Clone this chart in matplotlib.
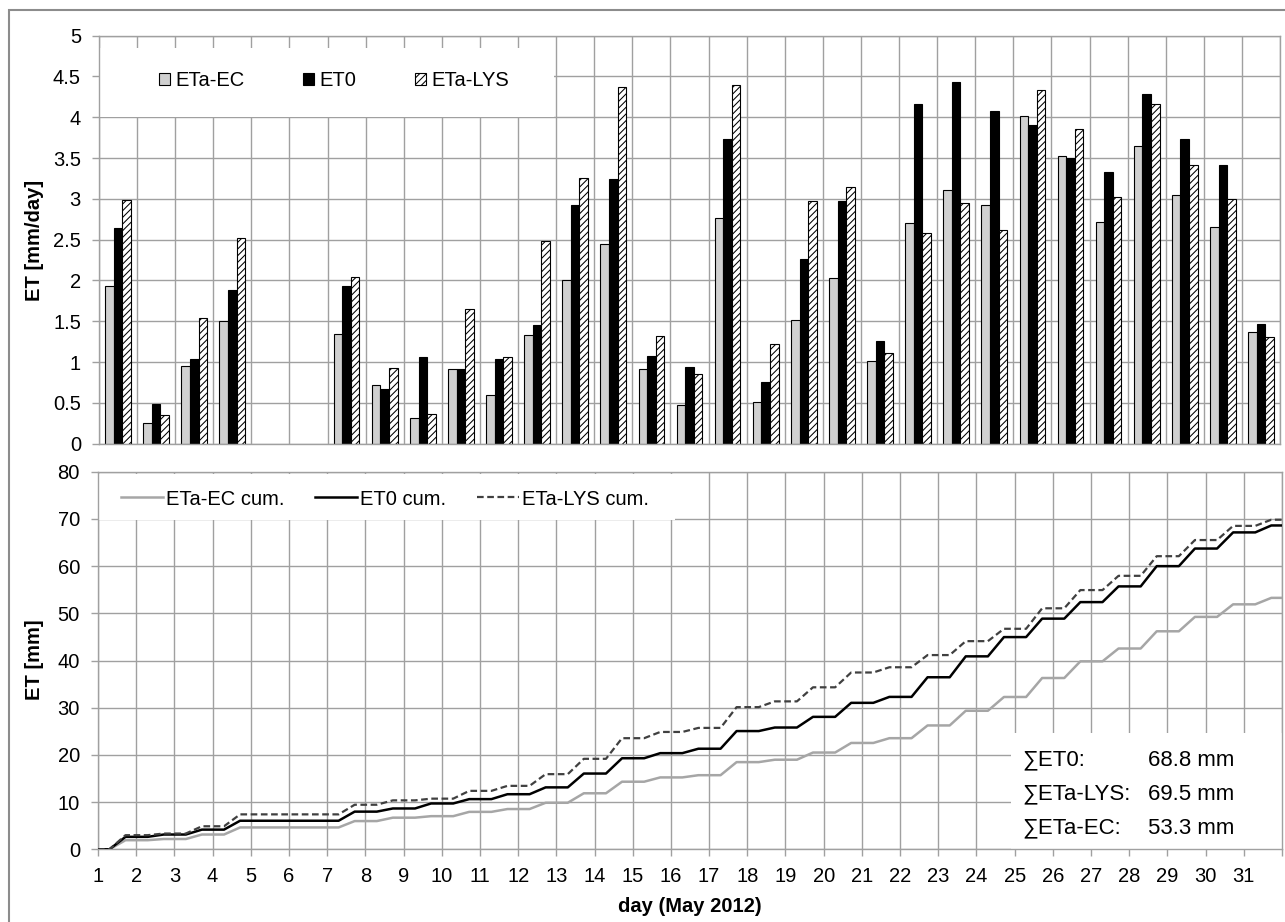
import numpy as np
import matplotlib
matplotlib.use('Agg')
import matplotlib.pyplot as plt
from matplotlib.patches import Rectangle
from matplotlib.ticker import FormatStrFormatter

nan = np.nan
days = list(range(1, 32))
eta_ec = [1.93, 0.25, 0.95, 1.50, nan, nan, 1.35, 0.72, 0.32, 0.91, 0.60, 1.33, 2.01, 2.45, 0.91,
          0.47, 2.77, 0.51, 1.52, 2.03, 1.01, 2.70, 3.11, 2.92, 4.02, 3.53, 2.72, 3.65, 3.05, 2.66, 1.37]
et0 = [2.64, 0.49, 1.04, 1.88, nan, nan, 1.93, 0.67, 1.06, 0.92, 1.04, 1.45, 2.93, 3.24, 1.08,
       0.94, 3.74, 0.75, 2.26, 2.97, 1.26, 4.16, 4.43, 4.08, 3.91, 3.50, 3.33, 4.29, 3.73, 3.42, 1.47]
eta_lys = [2.99, 0.35, 1.54, 2.52, nan, nan, 2.04, 0.93, 0.36, 1.65, 1.06, 2.48, 3.25, 4.37, 1.32,
           0.86, 4.40, 1.22, 2.98, 3.14, 1.11, 2.58, 2.95, 2.62, 4.34, 3.86, 3.02, 4.16, 3.42, 3.00, 1.31]
bar_labels = ['ETa-EC', 'ET0', 'ETa-LYS']
cum_labels = ['ETa-EC cum.', 'ET0 cum.', 'ETa-LYS cum.']
sum_labels = ['\u2211ET0:', '\u2211ETa-LYS:', '\u2211ETa-EC:']
sum_values = ['68.8 mm', '69.5 mm', '53.3 mm']

plt.rcParams['font.family'] = ['Liberation Sans', 'DejaVu Sans']
plt.rcParams['hatch.linewidth'] = 0.75
FS = 14.5
GC = '#a0a0a0'

W, H = 1285, 922
fig = plt.figure(figsize=(W / 100, H / 100), dpi=100)


def rect(l, t, r, b):
    return [l / W, 1 - b / H, (r - l) / W, (b - t) / H]


ax1 = fig.add_axes(rect(99, 35.7, 1280, 443.7))
ax2 = fig.add_axes(rect(98, 471.7, 1282, 849.3))

# ---------- top panel: daily bars ----------
x = np.array(days, dtype=float)
w = 0.225
ax1.bar(x - w, eta_ec, w, color='#d0d0d0', edgecolor='black', lw=0.8, label=bar_labels[0], zorder=2)
ax1.bar(x, et0, w, color='black', edgecolor='black', lw=0.8, label=bar_labels[1], zorder=2)
ax1.bar(x + w, eta_lys, w, color='white', edgecolor='black', hatch='/////', lw=0.8,
        label=bar_labels[2], zorder=2)
ax1.set_xlim(0.5, 31.5)
ax1.set_ylim(0, 5)
ax1.set_xticks(np.arange(0.5, 32, 1))
ax1.set_xticklabels([])
ax1.tick_params(axis='x', length=0)
ax1.set_yticks(np.arange(0, 5.01, 0.5))
ax1.yaxis.set_major_formatter(FormatStrFormatter('%g'))
ax1.tick_params(axis='y', direction='out', length=5, width=1.0, color=GC, pad=8, labelsize=FS)
ax1.grid(True, color=GC, lw=1.0)
ax1.set_axisbelow(True)
for s in ax1.spines.values():
    s.set_color(GC)
    s.set_linewidth(1.0)
ax1.add_patch(Rectangle((0.53, 4.0), 12.45 - 0.53, 4.85 - 4.0, facecolor='white',
                        edgecolor='none', zorder=1))
ax1.legend(loc='center left', bbox_to_anchor=(159 / W, 1 - 81 / H), bbox_transform=fig.transFigure,
           ncol=3, frameon=False, borderpad=0, borderaxespad=0, handlelength=0.55,
           handleheight=0.55, handletextpad=0.27, columnspacing=2.9, fontsize=FS)

# ---------- bottom panel: cumulative ----------


def cum_curve(daily):
    vals = np.nan_to_num(np.asarray(daily, dtype=float))
    cum = np.concatenate([[0.0], np.cumsum(vals)])
    xs, ys = [1.0], [0.0]
    for i, d in enumerate(days):
        xs += [d + 0.3, d + 0.72]
        ys += [cum[i], cum[i + 1]]
    xs.append(32.0)
    ys.append(cum[-1])
    return xs, ys


xe, ye = cum_curve(eta_ec)
x0, y0 = cum_curve(et0)
xl, yl = cum_curve(eta_lys)
ax2.plot(xe, ye, color='#a6a6a6', lw=1.8, label=cum_labels[0], zorder=3)
ax2.plot(x0, y0, color='black', lw=1.8, label=cum_labels[1], zorder=3)
ax2.plot(xl, yl, color='#404040', lw=1.6, ls=(0, (3, 1.6)), label=cum_labels[2], zorder=3)
ax2.set_xlim(1, 32)
ax2.set_ylim(0, 80)
ax2.set_xticks(range(1, 33))
ax2.set_xticklabels([str(d) for d in days] + [''])
ax2.set_yticks(range(0, 81, 10))
ax2.tick_params(axis='both', direction='out', length=5, width=1.0, color=GC, labelsize=FS)
ax2.tick_params(axis='x', pad=8)
ax2.tick_params(axis='y', pad=8)
ax2.grid(True, color=GC, lw=1.0)
ax2.set_axisbelow(True)
for s in ax2.spines.values():
    s.set_color(GC)
    s.set_linewidth(1.0)
ax2.add_patch(Rectangle((1.0, 69.8), 16.1 - 1.0, 79.6 - 69.8, facecolor='white',
                        edgecolor='none', zorder=1))
ax2.add_patch(Rectangle((24.9, 0.0), 32 - 24.9, 24.6, facecolor='white',
                        edgecolor='none', zorder=1))
ax2.legend(loc='center left', bbox_to_anchor=(121 / W, 1 - 499 / H), bbox_transform=fig.transFigure,
           ncol=3, frameon=False, borderpad=0, borderaxespad=0, handlelength=2.1,
           handletextpad=0.15, columnspacing=1.5, fontsize=FS)

row_y = [18.9, 11.7, 4.5]
for lab, val, yy in zip(sum_labels, sum_values, row_y):
    ax2.text(25.2, yy, lab, ha='left', va='center', fontsize=16, zorder=4)
    ax2.text(28.5, yy, val, ha='left', va='center', fontsize=16, zorder=4)

# axis labels
fig.text(35 / W, 1 - 240 / H, 'ET [mm/day]', rotation=90, ha='center', va='center',
         fontweight='bold', fontsize=FS)
fig.text(35 / W, 1 - 660 / H, 'ET [mm]', rotation=90, ha='center', va='center',
         fontweight='bold', fontsize=FS)
fig.text(690 / W, 1 - 906 / H, 'day (May 2012)', ha='center', va='center',
         fontweight='bold', fontsize=FS)

# chart area border
fig.add_artist(Rectangle((9 / W, -0.1), 1.2, 1 - 10 / H + 0.1, transform=fig.transFigure,
                         fill=False, edgecolor='#8c8c8c', lw=1.5))

fig.savefig('out.png', dpi=100)
